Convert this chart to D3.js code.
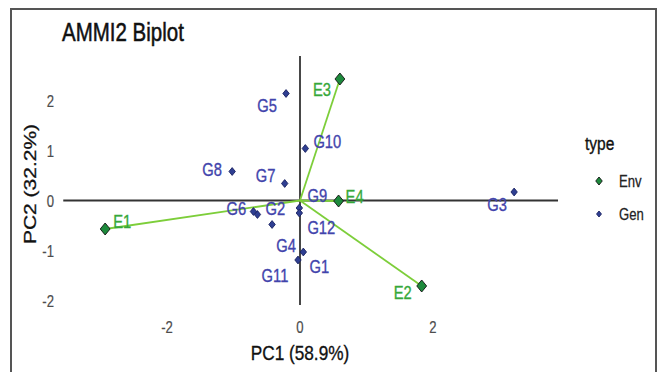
<!DOCTYPE html>
<html><head><meta charset="utf-8">
<script src="https://cdn.jsdelivr.net/npm/d3@7"></script>
<style>html,body{margin:0;padding:0;background:#fff;}svg{display:block;font-family:"Liberation Sans",Arial,sans-serif;}</style>
</head><body>
<script>
// ---- data ----
const envNames = ["E1","E2","E3","E4"];
const envPC1 = [-2.93, 1.83, 0.60, 0.58];
const envPC2 = [-0.57, -1.71, 2.43, -0.01];
const genNames = ["G1","G2","G3","G4","G5","G6","G7","G8","G9","G10","G11","G12"];
const genPC1 = [0.05, -0.64, 3.22, -0.42, -0.21, -0.70, -0.23, -1.02, -0.01, 0.08, -0.03, -0.01];
const genPC2 = [-1.03, -0.28, 0.17, -0.48, 2.14, -0.22, 0.34, 0.58, -0.15, 1.04, -1.19, -0.25];
const xTicks = [-2, 0, 2];
const yTicks = [-2, -1, 0, 1, 2];
const hRefRange = [-3.56, 3.88];   // horizontal reference line (PC2 = 0)
const vRefRange = [-2.09, 2.89];   // vertical reference line (PC1 = 0)
const legendTypes = ["Env","Gen"];
// label repel offsets (px) – layout only
const envLabelOff = {E1:[17,-7],E2:[-19,7],E3:[-18,11],E4:[16,-4]};
const genLabelOff = {G1:[16,15],G2:[18,-6],G3:[-17,13],G4:[14,21],G5:[-19,12],G6:[-17,-3],
  G7:[-19,-8],G8:[-20,-2],G9:[18,-12],G10:[22,-7],G11:[-23,16],G12:[22,15]};

const W = 659, H = 372, SQ = 0.82;
const svg = d3.select("body").append("svg").attr("width", W).attr("height", H);
const x = d3.scaleLinear().domain([-2, 2]).range([167, 433]);
const y = d3.scaleLinear().domain([-2, 2]).range([300.5, 100.5]);

const COL = {envFill:"#1d8a3c", envLab:"#36a83a", line:"#7dce3a", genFill:"#2f3f92",
  genStroke:"#1a2260", genLab:"#4244ac", tick:"#4d4d4d", axis:"#333"};

function txt(g, s, px, py, opt) {
  opt = opt || {};
  const f = opt.fill || "#000";
  return g.append("g").attr("transform", `translate(${px},${py}) scale(${SQ},1)` + (opt.rot ? ` rotate(${opt.rot})` : ""))
    .append("text").text(s)
    .attr("text-anchor", opt.anchor || "middle")
    .attr("dy", "0.36em")
    .attr("font-size", opt.size || 18)
    .attr("fill", f).attr("stroke", f).attr("stroke-width", opt.sw == null ? 0.35 : opt.sw);
}
function diamond(g, px, py, half, fill, stroke) {
  const side = half * Math.SQRT2;
  g.append("path")
    .attr("d", d3.symbol(d3.symbolSquare, side * side)())
    .attr("transform", `translate(${px},${py}) scale(${SQ},1) rotate(45)`)
    .attr("fill", fill).attr("stroke", stroke).attr("stroke-width", 0.9);
}

// frame
svg.append("path").attr("d", `M11,${H+5} L11,9 L656,9 L656,${H+5}`)
  .attr("fill", "none").attr("stroke", "#555").attr("stroke-width", 2);

// reference lines
svg.append("line").attr("x1", x(hRefRange[0])).attr("x2", x(hRefRange[1]))
  .attr("y1", y(0)).attr("y2", y(0)).attr("stroke", COL.axis).attr("stroke-width", 1.8);
svg.append("line").attr("x1", x(0)).attr("x2", x(0))
  .attr("y1", y(vRefRange[0])).attr("y2", y(vRefRange[1])).attr("stroke", COL.axis).attr("stroke-width", 1.8);

// env vectors
const env = envNames.map((n, i) => ({n, a: envPC1[i], b: envPC2[i]}));
const gen = genNames.map((n, i) => ({n, a: genPC1[i], b: genPC2[i]}));
svg.append("g").selectAll("line").data(env).join("line")
  .attr("x1", x(0)).attr("y1", y(0)).attr("x2", d => x(d.a)).attr("y2", d => y(d.b))
  .attr("stroke", COL.line).attr("stroke-width", 1.8);

// points
const gp = svg.append("g");
gen.forEach(d => diamond(gp, x(d.a), y(d.b), 3.9, COL.genFill, COL.genStroke));
env.forEach(d => diamond(gp, x(d.a), y(d.b), 6, COL.envFill, "#111"));

// labels
const gl = svg.append("g");
gen.forEach(d => { const o = genLabelOff[d.n]; txt(gl, d.n, x(d.a) + o[0], y(d.b) + o[1], {fill: COL.genLab, size: 18}); });
env.forEach(d => { const o = envLabelOff[d.n]; txt(gl, d.n, x(d.a) + o[0], y(d.b) + o[1], {fill: COL.envLab, size: 18}); });

// ticks
const ga = svg.append("g");
xTicks.forEach(v => txt(ga, String(v), x(v), 327, {size: 16, fill: COL.tick, sw: 0.2}));
yTicks.forEach(v => txt(ga, String(v), 54, y(v) + 1, {size: 16, fill: COL.tick, anchor: "end", sw: 0.2}));

// axis titles & title
txt(ga, "PC1 (58.9%)", 300, 352, {size: 21, fill: "#111"});
txt(ga, "PC2 (32.2%)", 30, 184, {size: 21, rot: -90, fill: "#111"});
txt(ga, "AMMI2 Biplot", 62, 32, {size: 25, anchor: "start", fill: "#111", sw: 0.5});

// legend
const lg = svg.append("g");
txt(lg, "type", 585, 143, {size: 19, anchor: "start", fill: "#111"});
legendTypes.forEach((t, i) => {
  const ly = 181 + i * 33;
  if (t === "Env") diamond(lg, 599, ly, 4, COL.envFill, "#111");
  else diamond(lg, 599, ly, 3, COL.genFill, COL.genStroke);
  txt(lg, t, 619, ly, {size: 16, anchor: "start", fill: "#222", sw: 0.25});
});
</script>
</body></html>
